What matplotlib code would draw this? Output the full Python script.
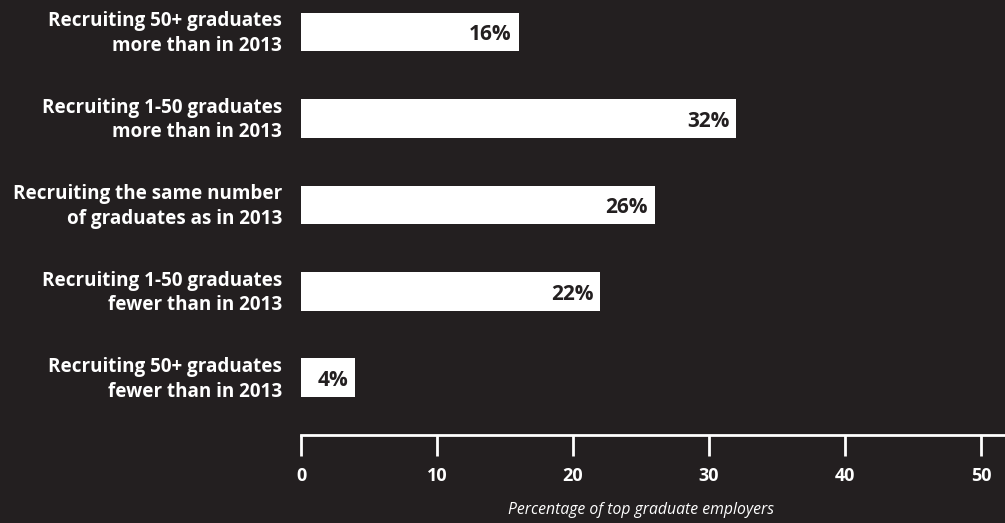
import matplotlib
matplotlib.use("Agg")
import matplotlib.pyplot as plt

# ---------------------------------------------------------------------------
# Data
# ---------------------------------------------------------------------------
categories = [
    "Recruiting 50+ graduates\nmore than in 2013",
    "Recruiting 1-50 graduates\nmore than in 2013",
    "Recruiting the same number\nof graduates as in 2013",
    "Recruiting 1-50 graduates\nfewer than in 2013",
    "Recruiting 50+ graduates\nfewer than in 2013",
]
values = [16, 32, 26, 22, 4]
ticks = [0, 10, 20, 30, 40, 50]
xlabel = "Percentage of top graduate employers"

BG = "#231f20"
FG = "white"

plt.rcParams["font.family"] = ["Open Sans", "DejaVu Sans"]

W, H = 1005, 523
fig = plt.figure(figsize=(W / 100, H / 100), dpi=100, facecolor=BG)
# axes spans pixel x 301..1005, y 0..435 (spine at the bottom)
ax = fig.add_axes([301 / W, 1 - 435 / H, (W - 301) / W, 435 / H], facecolor=BG)

px_per_unit = 680 / 50
ax.set_xlim(0, (W - 301) / px_per_unit)
ypos = list(range(len(values)))
ax.set_ylim(4.66, -0.37)

ax.barh(ypos, values, height=0.45, color=FG, edgecolor="none")

for y, v, label in zip(ypos, values, categories):
    ax.text(v - 0.5, y + 0.03, f"{v}%", ha="right", va="center",
            fontsize=15, fontweight="bold", color=BG)
    ax.text(-1.4, y + 0.02, label, ha="right", va="center",
            fontsize=13.6, fontweight="bold", color=FG, linespacing=1.3,
            clip_on=False)

for side in ("top", "right", "left"):
    ax.spines[side].set_visible(False)
ax.spines["bottom"].set_color(FG)
ax.spines["bottom"].set_linewidth(2)
ax.set_yticks([])
ax.set_xticks(ticks)
ax.set_xticklabels([str(t) for t in ticks], fontsize=13, fontweight="bold", color=FG)
ax.tick_params(axis="x", direction="out", length=15, width=2, color=FG, pad=8)
ax.set_xlabel(xlabel, fontsize=11.3, style="italic", color=FG)
# center the axis title under the 0..50 scale
ax.xaxis.set_label_coords(25 / ax.get_xlim()[1], -0.155)

fig.savefig("out.png", dpi=100, facecolor=BG)
